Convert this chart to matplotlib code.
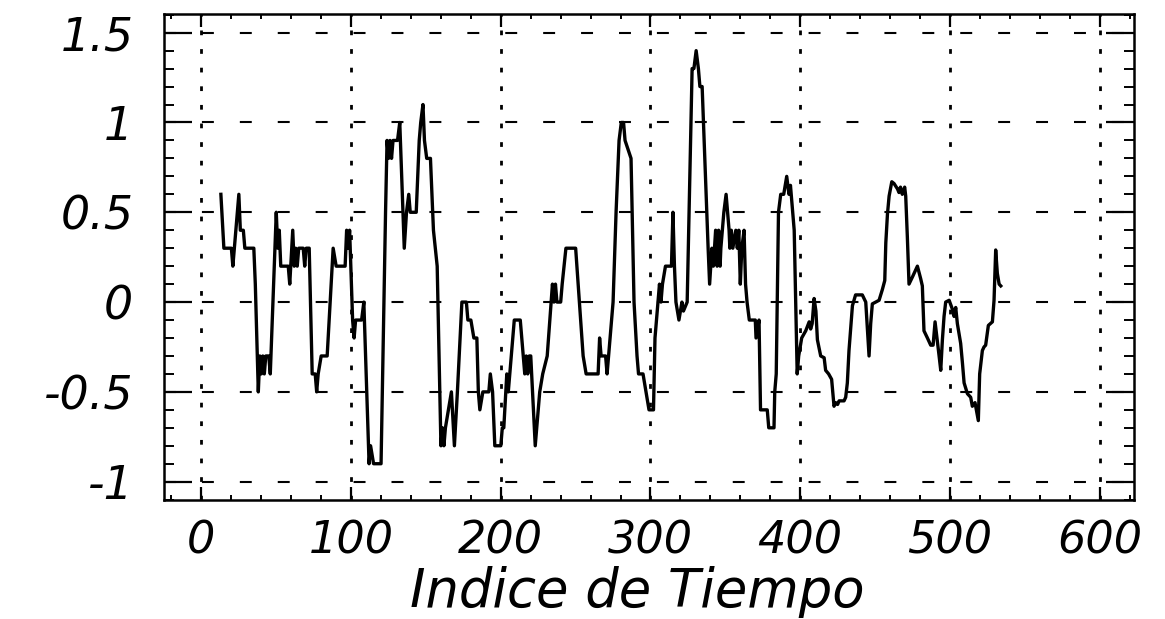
import numpy as np
import matplotlib
matplotlib.use("Agg")
import matplotlib.pyplot as plt
from matplotlib.ticker import MultipleLocator, FuncFormatter

# series: time index and value
t_idx = [13, 15, 20, 21, 22, 25, 26, 28, 29, 35, 36, 38, 39, 40, 41, 42, 43, 45, 46, 50,
         51, 52, 53, 58, 59, 61, 62, 63, 64, 65, 68, 69, 70, 72, 74, 76, 77, 78, 80, 84,
         88, 90, 96, 97, 98, 99, 101, 102, 103, 107, 108.5, 112, 113, 115, 120, 123, 124, 125, 126, 127,
         128, 131, 132.5, 135.5, 137, 138.5, 139.5, 143.5, 145.5, 146.5, 148, 149, 150.5, 153, 155, 157.5, 160, 161, 162, 163,
         165, 167, 169, 171, 174, 177, 178, 180, 182, 184, 185, 186, 188, 192, 193, 194.5, 196, 200, 201, 202,
         204, 205, 206, 209, 213, 215, 216, 217, 218, 219, 220, 223, 226, 228, 231, 234.5, 235.5, 236.5, 237.5, 240,
         241, 243.5, 250, 252.5, 255, 257, 265, 266, 267, 270, 271, 272, 275, 277, 279, 280.5, 282, 283, 287, 289,
         291, 292, 295, 297, 299, 302, 303, 305, 306, 307, 308, 310, 314, 315, 316, 317, 319, 321, 322, 324.5,
         327.8, 329, 330.5, 332, 333, 334.5, 338.5, 339.5, 341, 342, 343.5, 344.5, 345.5, 346.5, 347, 348, 349, 350.5, 352.5, 353,
         354, 355, 357, 358, 359, 360, 361, 362.5, 363.5, 364.5, 366, 370, 370.5, 372.5, 373.5, 378, 379, 382.5, 383, 384,
         385, 385.5, 387, 389, 391, 392.5, 393.5, 395, 396, 398, 399, 401, 403.7, 406, 407, 408, 409.3, 410.5, 411.5, 413.7,
         416, 417, 419, 421, 422.6, 423.7, 425, 426, 429.3, 430.4, 431.5, 432.6, 434.9, 437, 441.5, 443.8, 446, 447.1, 448.2, 450.5,
         452.7, 454.9, 456.5, 457.2, 458.3, 459.4, 461.2, 462.7, 465, 466, 467, 468.2, 469.8, 470.5, 471.6, 472.7, 475, 478.3, 480.5, 481.6,
         482.7, 485, 487.2, 488.8, 490.1, 491.7, 492.8, 493.9, 495, 496.1, 497.2, 499.5, 501.7, 502.8, 503.9, 505, 507.2, 508.4, 509.5, 511.7,
         513.9, 515, 516.8, 517.7, 519, 519.9, 521.7, 522.8, 523.9, 525.7, 528.4, 529.5, 530.6, 531.7, 532.9, 534]
valores = [0.6, 0.3, 0.3, 0.2, 0.3, 0.6, 0.4, 0.4, 0.3, 0.3, 0.1, -0.5, -0.3, -0.4, -0.3, -0.4, -0.3, -0.3, -0.4, 0.5,
           0.3, 0.4, 0.2, 0.2, 0.1, 0.4, 0.2, 0.3, 0.2, 0.3, 0.3, 0.2, 0.3, 0.3, -0.4, -0.4, -0.5, -0.4, -0.3, -0.3,
           0.3, 0.2, 0.2, 0.4, 0.3, 0.4, -0.1, -0.2, -0.1, -0.1, 0.0, -0.9, -0.8, -0.9, -0.9, 0.5, 0.9, 0.8, 0.9, 0.8,
           0.9, 0.9, 1.0, 0.3, 0.5, 0.6, 0.5, 0.5, 0.9, 1.0, 1.1, 0.9, 0.8, 0.8, 0.4, 0.2, -0.8, -0.7, -0.8, -0.7,
           -0.6, -0.5, -0.8, -0.5, 0.0, 0.0, -0.1, -0.1, -0.2, -0.2, -0.5, -0.6, -0.5, -0.5, -0.4, -0.5, -0.8, -0.8, -0.7, -0.7,
           -0.4, -0.5, -0.4, -0.1, -0.1, -0.3, -0.4, -0.3, -0.4, -0.3, -0.3, -0.8, -0.5, -0.4, -0.3, 0.1, 0.0, 0.1, 0.0, 0.0,
           0.1, 0.3, 0.3, 0.0, -0.3, -0.4, -0.4, -0.2, -0.3, -0.3, -0.4, -0.3, 0.0, 0.5, 0.9, 1.0, 1.0, 0.9, 0.8, 0.0,
           -0.3, -0.4, -0.4, -0.5, -0.6, -0.6, -0.2, 0.0, 0.1, 0.0, 0.1, 0.2, 0.2, 0.5, 0.2, 0.0, -0.1, 0.0, -0.05, 0.0,
           1.3, 1.3, 1.4, 1.3, 1.2, 1.2, 0.3, 0.1, 0.3, 0.2, 0.4, 0.2, 0.4, 0.2, 0.3, 0.4, 0.5, 0.6, 0.4, 0.3,
           0.4, 0.3, 0.4, 0.3, 0.4, 0.1, 0.3, 0.4, 0.1, 0.0, -0.1, -0.1, -0.2, -0.1, -0.6, -0.6, -0.7, -0.7, -0.5, -0.4,
           0.2, 0.5, 0.6, 0.6, 0.7, 0.6, 0.65, 0.5, 0.4, -0.4, -0.3, -0.2, -0.16, -0.11, -0.15, -0.12, 0.02, -0.05, -0.21, -0.3,
           -0.31, -0.38, -0.4, -0.43, -0.58, -0.56, -0.57, -0.55, -0.55, -0.53, -0.45, -0.27, -0.02, 0.04, 0.04, 0.0, -0.3, -0.12, -0.01, 0.0,
           0.01, 0.07, 0.12, 0.33, 0.49, 0.59, 0.67, 0.66, 0.63, 0.61, 0.64, 0.6, 0.64, 0.59, 0.36, 0.1, 0.14, 0.2, 0.13, 0.09,
           -0.16, -0.2, -0.24, -0.24, -0.11, -0.22, -0.3, -0.38, -0.21, -0.08, 0.0, 0.01, -0.04, -0.08, -0.03, -0.12, -0.23, -0.34, -0.45, -0.51,
           -0.53, -0.58, -0.56, -0.6, -0.66, -0.4, -0.27, -0.25, -0.24, -0.13, -0.11, 0.01, 0.29, 0.16, 0.1, 0.09]

x_ticks = [0, 100, 200, 300, 400, 500, 600]
y_ticks = [-1, -0.5, 0, 0.5, 1, 1.5]
x_label = "Indice de Tiempo"

plt.rcParams['font.family'] = 'DejaVu Sans'
plt.rcParams['font.style'] = 'italic'
plt.rcParams['axes.unicode_minus'] = False
plt.rcParams['lines.scale_dashes'] = False

fig = plt.figure(figsize=(11.65, 6.19), dpi=100)
ax = fig.add_axes([164 / 1165, 1 - 500 / 619, 970 / 1165, 486 / 619])

# grid: dotted verticals, dashed horizontals
for xv in x_ticks:
    ax.axvline(xv, color='black', lw=2.0, dashes=(3.4, 10.0), zorder=1)
for yv in y_ticks:
    ax.axhline(yv, color='black', lw=1.5, dashes=(8.6, 18.7), zorder=1)

ax.plot(t_idx, valores, color='black', lw=2.4, zorder=3)

ax.set_xlim(-25, 623)
ax.set_ylim(-1.102, 1.604)

ax.xaxis.set_major_locator(MultipleLocator(100))
ax.xaxis.set_minor_locator(MultipleLocator(20))
ax.yaxis.set_major_locator(MultipleLocator(0.5))
ax.yaxis.set_minor_locator(MultipleLocator(0.1))
ax.yaxis.set_major_formatter(FuncFormatter(lambda v, p: ('%g' % v)))

ax.tick_params(axis='x', which='major', direction='in', length=9.5, width=1.6,
               top=True, bottom=True, labelsize=32, pad=14)
ax.tick_params(axis='x', which='minor', direction='in', length=3.6, width=1.4,
               top=True, bottom=True)
ax.tick_params(axis='y', which='major', direction='in', length=20, width=1.6,
               left=True, right=True, labelsize=33, pad=22)
ax.tick_params(axis='y', which='minor', direction='in', length=7.5, width=1.4,
               left=True, right=True)

for s in ax.spines.values():
    s.set_linewidth(1.8)

ax.set_xlabel(x_label, fontsize=38, va='baseline')
ax.xaxis.set_label_coords((637 - 164) / 970, -(607 - 500) / 486)

fig.savefig('out.png', dpi=100)
